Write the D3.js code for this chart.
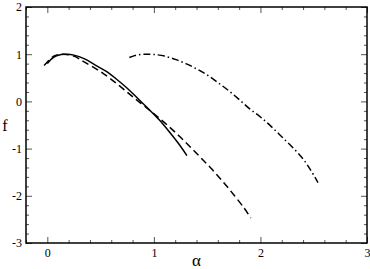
<!DOCTYPE html>
<html>
<head>
<meta charset="utf-8"/>
<script src="https://cdnjs.cloudflare.com/ajax/libs/d3/7.8.5/d3.min.js"></script>
<style>
  body { margin: 0; background: #fff; }
  text { font-family: "Liberation Serif", "DejaVu Serif", serif; }
</style>
</head>
<body>
<script>
// curves: [alpha, f]
const solid = [[0.0,0.8],[0.04,0.9],[0.08,0.96],[0.13,0.995],[0.18,1.0],[0.25,0.98],[0.35,0.9],[0.45,0.77],
  [0.55,0.64],[0.65,0.47],[0.75,0.28],[0.85,0.06],[0.95,-0.16],[1.05,-0.39],[1.15,-0.66],[1.25,-0.95],[1.31,-1.15]];
const dashed = [[-0.03,0.76],[0.02,0.88],[0.06,0.96],[0.1,0.99],[0.15,1.0],[0.25,0.96],[0.35,0.83],[0.5,0.63],
  [0.65,0.38],[0.8,0.1],[0.95,-0.17],[1.1,-0.45],[1.25,-0.76],[1.4,-1.1],[1.55,-1.45],[1.7,-1.84],[1.85,-2.27],[1.91,-2.47]];
const dashDot = [[0.77,0.93],[0.82,0.97],[0.88,0.995],[0.94,1.0],[1.0,0.995],[1.1,0.96],[1.2,0.89],[1.3,0.8],
  [1.4,0.69],[1.5,0.56],[1.6,0.4],[1.7,0.23],[1.8,0.04],[1.9,-0.16],[2.0,-0.33],[2.1,-0.53],[2.2,-0.75],
  [2.3,-0.97],[2.4,-1.22],[2.47,-1.45],[2.54,-1.72]];
const xTicks = [0, 1, 2, 3];
const yTicks = [-3, -2, -1, 0, 1, 2];

const width = 370, height = 269;
const m = {top: 7, right: 3, bottom: 26, left: 26};

const x = d3.scaleLinear().domain([-0.2, 3]).range([m.left, width - m.right]);
const y = d3.scaleLinear().domain([-3, 2]).range([height - m.bottom, m.top]);

const svg = d3.select("body").append("svg").attr("width", width).attr("height", height);

const xMinor = d3.range(-0.2, 3.001, 0.2).map(v => +v.toFixed(1)).filter(v => !xTicks.includes(v));
const yMinor = d3.range(-3, 2.001, 0.2).map(v => +v.toFixed(1)).filter(v => !yTicks.includes(v));

function ticks(axis, vals, size) {
  return axis.tickValues(vals).tickSizeInner(-size).tickSizeOuter(0).tickPadding(4);
}
const H = height - m.bottom - m.top, W = width - m.left - m.right;

// minor ticks on all four sides
[[d3.axisBottom(x), xMinor, `translate(0,${height - m.bottom})`],
 [d3.axisTop(x), xMinor, `translate(0,${m.top})`],
 [d3.axisLeft(y), yMinor, `translate(${m.left},0)`],
 [d3.axisRight(y), yMinor, `translate(${width - m.right},0)`]].forEach(([ax, vals, tr]) => {
  const g = svg.append("g").attr("transform", tr).call(ticks(ax, vals, 3).tickFormat(""));
  g.select(".domain").remove();
  g.selectAll("line").attr("stroke", "#555");
});

// major ticks
const gxb = svg.append("g").attr("transform", `translate(0,${height - m.bottom})`)
  .call(ticks(d3.axisBottom(x), xTicks, 6).tickFormat(d3.format("d")));
const gxt = svg.append("g").attr("transform", `translate(0,${m.top})`)
  .call(ticks(d3.axisTop(x), xTicks, 6).tickFormat(""));
const gyl = svg.append("g").attr("transform", `translate(${m.left},0)`)
  .call(ticks(d3.axisLeft(y), yTicks, 6).tickFormat(d => d));
const gyr = svg.append("g").attr("transform", `translate(${width - m.right},0)`)
  .call(ticks(d3.axisRight(y), yTicks, 6).tickFormat(""));
[gxb, gxt, gyl, gyr].forEach(g => {
  g.select(".domain").remove();
  g.selectAll("line").attr("stroke", "#555");
  g.selectAll("text").attr("font-size", 12).attr("font-family", "Liberation Serif").attr("fill", "#000");
});
gxb.selectAll("text").attr("y", 5);
gyl.selectAll("text").attr("x", -4);

svg.append("rect").attr("x", m.left).attr("y", m.top).attr("width", W).attr("height", H)
  .attr("fill", "none").attr("stroke", "#000").attr("stroke-width", 1.5);

const line = d3.line().x(d => x(d[0])).y(d => y(d[1])).curve(d3.curveCatmullRom);
svg.append("path").datum(solid).attr("d", line).attr("fill", "none")
  .attr("stroke", "#000").attr("stroke-width", 1.5);
svg.append("path").datum(dashed).attr("d", line).attr("fill", "none")
  .attr("stroke", "#000").attr("stroke-width", 1.5).attr("stroke-dasharray", "7,4");
svg.append("path").datum(dashDot).attr("d", line).attr("fill", "none")
  .attr("stroke", "#000").attr("stroke-width", 1.5).attr("stroke-dasharray", "7,3,1.5,3");

svg.append("text").attr("x", m.left + W / 2).attr("y", 266).attr("text-anchor", "middle")
  .attr("font-size", 17).text("α");
svg.append("text").attr("x", 5).attr("y", 131).attr("text-anchor", "middle")
  .attr("font-size", 16).text("f");
</script>
</body>
</html>
